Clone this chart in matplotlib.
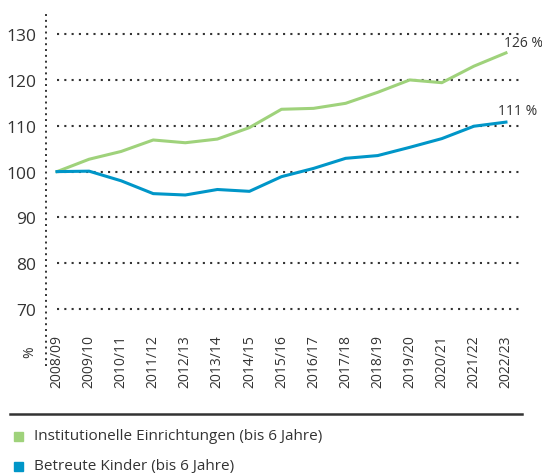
import matplotlib.pyplot as plt
from matplotlib.patches import Rectangle
from matplotlib.lines import Line2D

plt.rcParams['font.family'] = ['Open Sans', 'DejaVu Sans']

years = ['2008/09', '2009/10', '2010/11', '2011/12', '2012/13', '2013/14',
         '2014/15', '2015/16', '2016/17', '2017/18', '2018/19', '2019/20',
         '2020/21', '2021/22', '2022/23']
einrichtungen = [100, 102.7, 104.4, 106.9, 106.3, 107.1, 109.6, 113.6,
                 113.8, 114.9, 117.3, 120.0, 119.4, 123.0, 125.9]
kinder = [100, 100.1, 98.0, 95.2, 94.9, 96.1, 95.7, 98.9,
          100.7, 102.9, 103.5, 105.3, 107.2, 109.9, 110.8]
yticks = [70, 80, 90, 100, 110, 120, 130]
labels = ['Institutionelle Einrichtungen (bis 6 Jahre)', 'Betreute Kinder (bis 6 Jahre)']
end_labels = ['126 %', '111 %']

green = '#9fd27b'
blue = '#0096c8'
dark = '#333333'

W, H = 542, 477
fig = plt.figure(figsize=(W / 100, H / 100), dpi=100)
ax = fig.add_axes([46 / W, 110 / H, 476 / W, 353 / H])

x = list(range(len(years)))
ax.plot(x, einrichtungen, color=green, lw=2.2, solid_joinstyle='round')
ax.plot(x, kinder, color=blue, lw=2.2, solid_joinstyle='round')

# dotted grid lines starting at first category
ax.hlines(yticks, 0, 14.5, colors=dark, lw=1.5, linestyles=(0, (1, 2.5)), zorder=0)

ax.set_xlim(-0.343, 14.5)
ax.set_ylim(57.6, 134.6)
ax.set_yticks(yticks)
ax.set_yticklabels([str(v) for v in yticks], fontsize=12.5, color=dark)
ax.set_xticks(x)
ax.set_xticklabels(years, rotation=90, fontsize=10, color=dark, va='top')
ax.tick_params(axis='y', length=0, pad=7)
ax.tick_params(axis='x', length=0, pad=-23)

for s in ['top', 'right', 'bottom']:
    ax.spines[s].set_visible(False)
ax.spines['left'].set_linestyle((0, (1, 2)))
ax.spines['left'].set_linewidth(1.4)
ax.spines['left'].set_color(dark)
ax.spines['left'].set_capstyle('butt')

ax.annotate(end_labels[0], (x[-1], einrichtungen[-1]), xytext=(-1.5, 2),
            textcoords='offset points', fontsize=10, color=dark, va='bottom')
ax.annotate(end_labels[1], (x[-1], kinder[-1]), xytext=(-6, 3),
            textcoords='offset points', fontsize=10, color=dark, va='bottom')

fig.text(30 / W, 1 - 352 / H, '%', rotation=90, fontsize=10, color=dark,
         ha='center', va='center')

# separator line and legend
fig.add_artist(Line2D([10 / W, 522 / W], [1 - 415 / H, 1 - 415 / H],
                      color=dark, lw=1.8, transform=fig.transFigure))
for i, (lab, col) in enumerate(zip(labels, [green, blue])):
    yc = 437 + 30 * i
    fig.add_artist(Rectangle((14 / W, 1 - (yc + 4.5) / H), 9 / W, 9 / H,
                             color=col, transform=fig.transFigure))
    fig.text(34 / W, 1 - yc / H, lab, fontsize=11, color=dark, va='center')

fig.savefig('out.png', dpi=100)
